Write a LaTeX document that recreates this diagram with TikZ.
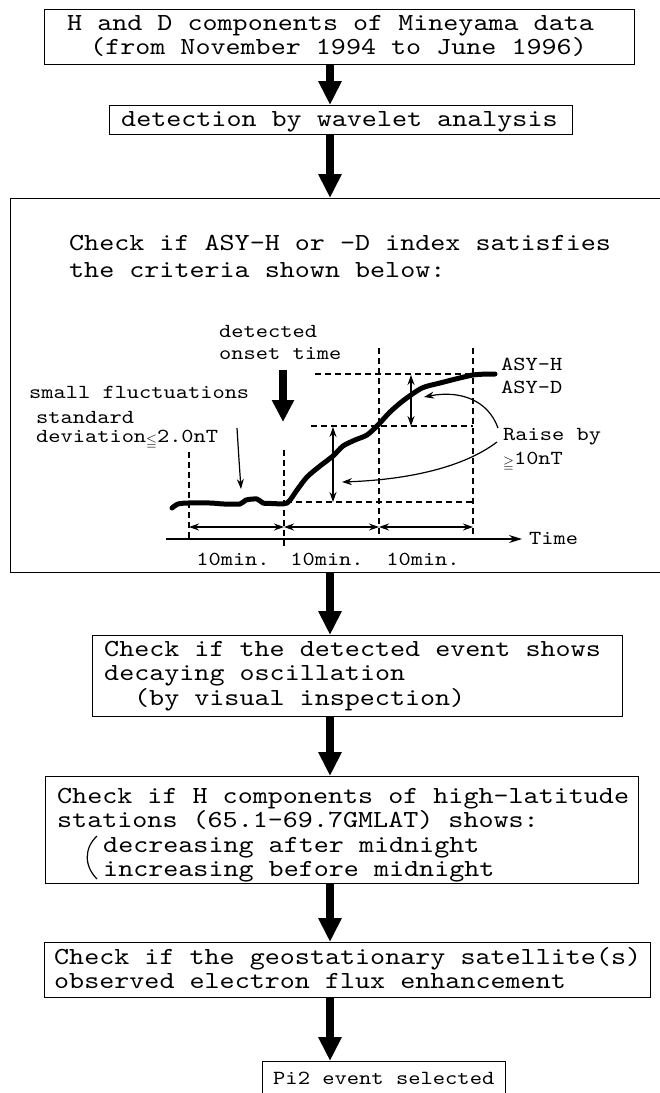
\documentclass[tikz,border=0pt]{standalone}
\usepackage{fontspec}
\usepackage{amssymb}
\usepackage{graphicx}
\usetikzlibrary{arrows.meta}

% a widened typewriter face, close to the proportions of Courier
\newfontfamily\widetype{lmmono10-regular.otf}[FakeStretch=1.17]
\newcommand\boxfont{\fontsize{24.5pt}{24.5pt}\selectfont\widetype}
\newcommand\plotfont{\fontsize{19.9pt}{22pt}\selectfont\widetype}
\newcommand\resultfont{\fontsize{20pt}{24pt}\selectfont\widetype}
\newcommand\smallleq{\raisebox{-3pt}{\scalebox{0.7}{$\leqq$}}}
\newcommand\smallgeq{\raisebox{-3pt}{\scalebox{0.7}{$\geqq$}}}
% left-aligned rows at a fixed pitch; the node's base is the first baseline
\newcommand\rowsat[2]{\vtop{\baselineskip=#1\lineskiplimit=-100pt\lineskip=0pt
  \halign{##\hfil\cr#2\crcr}}}

\tikzset{
  stagebox/.style={draw, line width=1.4pt, inner sep=0pt, anchor=north west},
  boxtext/.style={anchor=base west, inner sep=0pt, font=\boxfont},
  plotlabel/.style={anchor=base west, inner sep=0pt, font=\plotfont},
  flow/.style={line width=8pt, -{Triangle[width=22pt,length=24pt]}},
  guide/.style={line width=1.3pt, dash pattern=on 6pt off 4pt},
  trace/.style={line width=5pt, line cap=round, line join=round},
  span/.style={line width=1.4pt, {Stealth[length=10pt,width=7pt]}-{Stealth[length=10pt,width=7pt]}},
  pointer/.style={line width=1.2pt, -{Stealth[length=10pt,width=7pt]}},
}

\begin{document}
\begin{tikzpicture}[x=1pt, y=-1pt]
\fill[white] (0,0) rectangle (660,1093);
\useasboundingbox (0,0) rectangle (660,1093);

% column of the flow arrows
\coordinate (ax) at (330,0);

% ---- stage 1
\node[stagebox, minimum width=590pt, minimum height=55pt] (b1) at (44,9) {};
\node[boxtext] (t1) at (67,30) {\rowsat{24pt}{H and D components of Mineyama data\cr
  \hspace*{23pt}(from November 1994 to June 1996)}};

% ---- stage 2
\node[stagebox, minimum width=463pt, minimum height=29pt] (b2) at (109,105) {};
\node[boxtext] (t2) at (121,126) {detection by wavelet analysis};

% ---- stage 3 (runs off the right edge)
\node[stagebox, minimum width=690pt, minimum height=374pt] (b3) at (10,198) {};
\node[boxtext] (t3) at (69,250) {\rowsat{27pt}{Check if ASY-H or -D index satisfies\cr
  the criteria shown below:}};

% sketch of the onset criteria
\draw[line width=1.3pt, -{Stealth[length=13pt,width=8pt]}] (166,539) coordinate (tax0) -- (522,539) coordinate (tax1);
\node[plotlabel] (ltime) at (529,544) {Time};

\draw[guide] (189,452) -- (189,540);
\draw[guide] (284,450) -- (284,548);
\draw[guide] (379,348) -- (379,538);
\draw[guide] (473,348) -- (473,534);
\draw[guide] (286,502) -- (473,502);
\draw[guide] (311,426) -- (473,426);
\draw[guide] (315,374) -- (473,374);

\draw[trace] plot[smooth, tension=0.45] coordinates {
  (172,508) (178,504) (188,503) (210,503) (224,504) (240,504) (246,500)
  (257,499) (263,503) (272,503.5) (287,503) (297,490) (307,477) (320,466)
  (333,456) (343,446) (355,440) (367,435) (378,425) (390,412) (404,400)
  (422,388) (440,383) (473,375) (495,374)};

\draw[span] (333,427) -- (333,502);
\draw[span] (411,375) -- (411,426);
\draw[span] (189,527) -- (284,527);
\draw[span] (284,527) -- (379,527);
\draw[span] (379,527) -- (473,527);

\node[anchor=base, inner sep=0pt, font=\plotfont] (m1) at (233,565) {10min.};
\node[anchor=base, inner sep=0pt, font=\plotfont] (m2) at (327,565) {10min.};
\node[anchor=base, inner sep=0pt, font=\plotfont] (m3) at (423,565) {10min.};

\node[plotlabel] (ldet) at (219,337) {\rowsat{22pt}{detected\cr onset time}};
\draw[line width=8pt, -{Triangle[width=21pt,length=22pt]}] (283,370) coordinate (on0) -- (283,422) coordinate (on1);

\node[plotlabel] (lsf) at (29,398) {small fluctuations};
\node[plotlabel] (lsd) at (36,423) {\rowsat{19.5pt}{standard\cr deviation\smallleq2.0nT}};
\draw[pointer] (237,428) coordinate (sf0) .. controls (239,460) .. (241,489) coordinate (sf1);

\node[plotlabel] (lasy) at (501,370) {\rowsat{23pt}{ASY-H\cr ASY-D}};
\node[plotlabel] (lrb) at (503,440) {\rowsat{24pt}{Raise by\cr \smallgeq10nT}};
\draw[pointer] (498,428) coordinate (ra0) .. controls (488,400) and (460,390) .. (424,397) coordinate (ra1);
\draw[pointer] (497,442) coordinate (rb0) .. controls (460,470) and (400,480) .. (342,482) coordinate (rb1);

% ---- stage 4
\node[stagebox, minimum width=530pt, minimum height=81pt] (b4) at (92,635) {};
\node[boxtext] (t4) at (104,656) {\rowsat{24.5pt}{Check if the detected event shows\cr
  decaying oscillation\cr
  \hspace*{30pt}(by visual inspection)}};

% ---- stage 5
\node[stagebox, minimum width=593pt, minimum height=107pt] (b5) at (45,776) {};
\node[boxtext] (t5) at (57,803) {\rowsat{24.5pt}{Check if H components of high-latitude\cr
  stations (65.1-69.7GMLAT) shows:}};
\draw[line width=1.2pt] (97,836) .. controls (84,848) and (84,866) .. (97,879);
\node[boxtext] (t5c) at (103,852) {\rowsat{24pt}{decreasing after midnight\cr
  increasing before midnight}};

% ---- stage 6
\node[stagebox, minimum width=606pt, minimum height=55pt] (b6) at (44,942) {};
\node[boxtext] (t6) at (54,964) {\rowsat{24pt}{Check if the geostationary satellite(s)\cr
  observed electron flux enhancement}};

% ---- result
\node[stagebox, minimum width=243pt, minimum height=45pt] (b7) at (262,1061) {};
\node[anchor=base west, inner sep=0pt, font=\resultfont] (t7) at (273,1084) {Pi2 event selected};

% ---- flow
\draw[flow] (b1.south -| ax) -- (b2.north -| ax);
\draw[flow] (b2.south -| ax) -- (b3.north -| ax);
\draw[flow] (b3.south -| ax) -- (b4.north -| ax);
\draw[flow] (b4.south -| ax) -- (b5.north -| ax);
\draw[flow] (b5.south -| ax) -- (b6.north -| ax);
\draw[flow] (b6.south -| ax) -- (b7.north -| ax);
\end{tikzpicture}
\end{document}
